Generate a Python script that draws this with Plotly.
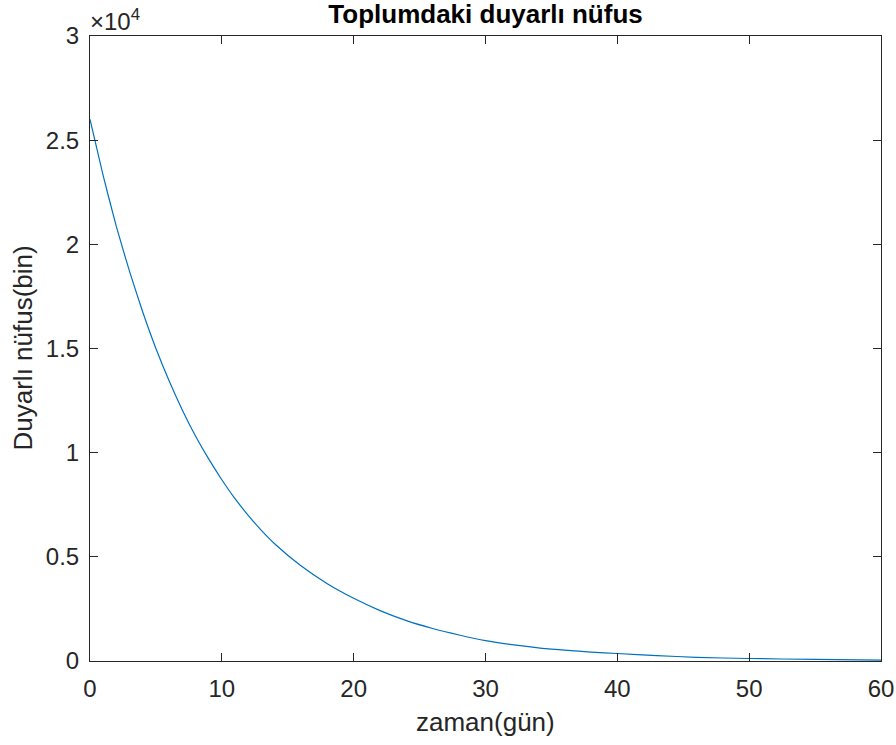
import plotly.graph_objects as go

# Data
zaman = [0, 1, 2, 3, 4, 5, 6, 7, 8, 9, 10, 11, 12, 13, 14, 16, 18, 20, 22, 24, 26,
         28, 30, 32, 35, 38, 40, 43, 46, 50, 55, 60]
duyarli = [26000, 23300, 20850, 18700, 16750, 15000, 13450, 12050, 10800, 9700,
           8700, 7790, 6990, 6270, 5630, 4570, 3710, 3010, 2420, 1940, 1560,
           1250, 980, 790, 570, 430, 360, 260, 175, 120, 75, 45]

y_tickvals = [0, 5000, 10000, 15000, 20000, 25000, 30000]
y_ticktext = ["0", "0.5", "1", "1.5", "2", "2.5", "3"]
x_tickvals = [0, 10, 20, 30, 40, 50, 60]

baslik = "Toplumdaki duyarlı nüfus"
x_etiket = "zaman(gün)"
y_etiket = "Duyarlı nüfus(bin)"

FONT = "Liberation Sans, Arial, Helvetica, sans-serif"
AXC = "#262626"

fig = go.Figure()
fig.add_trace(go.Scatter(x=zaman, y=duyarli, mode="lines",
                         line=dict(color="#0072BD", width=1.2, shape="spline", smoothing=0.5),
                         showlegend=False, hoverinfo="x+y"))

axis_common = dict(showgrid=False, zeroline=False, showline=True, linecolor=AXC,
                   linewidth=1, mirror="ticks", ticks="inside", ticklen=8,
                   tickcolor=AXC, tickwidth=1, automargin=False,
                   tickfont=dict(family=FONT, size=24, color=AXC))

fig.update_layout(
    width=896, height=745,
    margin=dict(l=90, r=15, t=36, b=84, autoexpand=False),
    paper_bgcolor="white", plot_bgcolor="white",
    title=dict(text="<b>" + baslik + "</b>", x=0.5419, xanchor="center",
               y=0.9815, yanchor="middle",
               font=dict(family=FONT, size=26, color="black")),
    xaxis=dict(range=[0, 60], tickvals=x_tickvals, ticklabelstandoff=6,
               **axis_common),
    yaxis=dict(range=[0, 30000], tickvals=y_tickvals, ticktext=y_ticktext,
               ticklabelstandoff=5, **axis_common),
)

fig.add_annotation(text=x_etiket, xref="paper", yref="paper", x=0.5, y=0,
                   yshift=-61, xanchor="center", yanchor="middle", showarrow=False,
                   font=dict(family=FONT, size=26, color=AXC))
fig.add_annotation(text=y_etiket, xref="paper", yref="paper", x=0, y=0.5,
                   xshift=-68, xanchor="center", yanchor="middle", textangle=-90,
                   showarrow=False, font=dict(family=FONT, size=26, color=AXC))
fig.add_annotation(text="×10<sup>4</sup>", xref="paper", yref="paper",
                   x=0, y=1, xanchor="left", yanchor="bottom", yshift=-1, xshift=-2,
                   showarrow=False, font=dict(family=FONT, size=24, color=AXC))

fig.write_html("out.html")
